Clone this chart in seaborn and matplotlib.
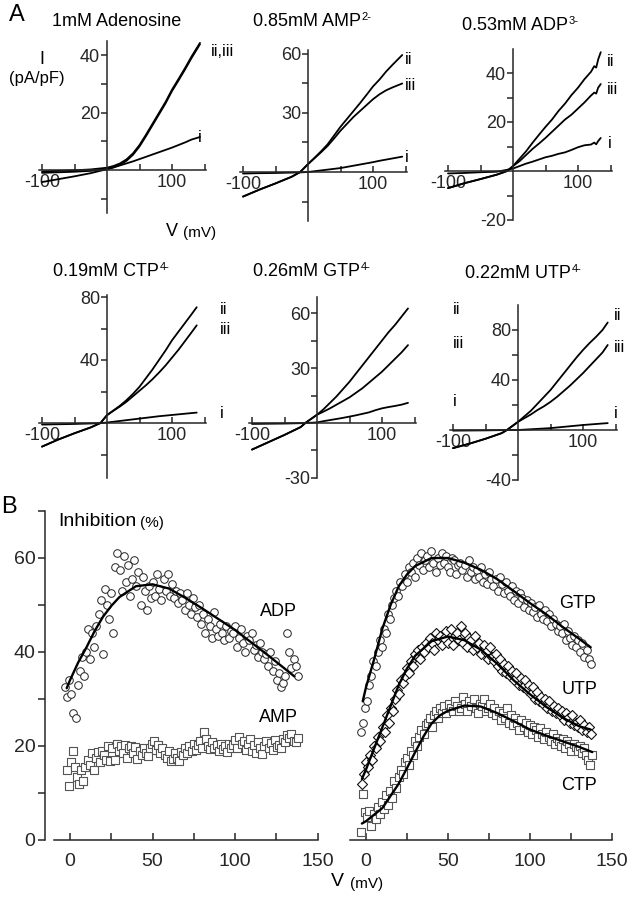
import numpy as np
import matplotlib
matplotlib.use("Agg")
import matplotlib.pyplot as plt
import seaborn as sns

# ---------------------------------------------------------------------------
# Panel A: I-V traces (V in mV, I in pA/pF)
# ---------------------------------------------------------------------------
ADO_V = [-100, -75, -50, -25, 0, 10, 20, 30, 40, 50, 60, 70, 80, 90, 100, 110, 120, 130, 143]
ADO_I = [-4.2, -3.2, -2.2, -1.1, 0.3, 0.9, 1.6, 2.3, 3.0, 3.8, 4.6, 5.4, 6.2, 7.0, 7.8, 8.7, 9.6, 10.6, 11.5]
ADO_II = [-1.0, -0.8, -0.6, -0.3, 0.3, 0.9, 1.8, 3.2, 5.3, 8.2, 11.8, 15.6, 19.4, 23.2, 27.5, 31.2, 35.0, 39.0, 43.8]

AMP_V = [-100, -75, -50, -25, -12, 0, 10, 20, 30, 40, 50, 60, 70, 80, 90, 100, 110, 120, 130, 145]
AMP_I = [-0.8, -0.6, -0.5, -0.3, -0.2, 0, 0.4, 0.8, 1.2, 1.6, 2.0, 2.6, 3.2, 3.8, 4.4, 5.0, 5.7, 6.3, 6.9, 7.8]
AMP_II = [-12.5, -9, -5.8, -2.4, 0, 4, 7.2, 10.5, 14, 18.5, 23, 27, 31, 35, 39.2, 43.5, 47, 51, 54.5, 59.5]
AMP_III = [-12.5, -9, -5.8, -2.4, 0, 4, 7, 10, 13.2, 17, 21, 24.5, 28, 31, 34, 37, 39.5, 41.5, 43, 45]

ADP_V = [-100, -75, -50, -25, -9, 0, 10, 20, 30, 40, 50, 60, 70, 80, 90, 100, 110, 120, 125, 128, 131, 135]
ADP_I = [-1, -0.8, -0.5, -0.3, 0.5, 1, 2, 3, 3.8, 4.7, 5.6, 6.2, 7, 7.6, 8.6, 9.7, 10.5, 10.8, 11.6, 10.9, 12.2, 13.5]
ADP_II = [-7, -5, -3.3, -1.5, 0, 2, 5, 8, 11.5, 14.8, 18, 21, 24.5, 27.5, 31, 34, 37.5, 40.5, 42.8, 42.2, 45.5, 48.5]
ADP_III = [-7, -5, -3.3, -1.5, 0, 2, 4, 6.5, 9, 11.2, 13.5, 16, 18.5, 21, 23, 25.5, 28, 30.8, 32, 31.6, 34, 35.5]

CTP_V = [-100, -75, -50, -25, -10, 0, 10, 20, 30, 40, 50, 60, 70, 80, 90, 100, 110, 120, 130, 138]
CTP_I = [-1, -0.8, -0.6, -0.3, -0.1, 0.3, 0.8, 1.3, 1.8, 2.3, 2.8, 3.3, 3.8, 4.3, 4.7, 5.1, 5.5, 5.9, 6.3, 6.6]
CTP_II = [-15, -10.5, -6.5, -2.8, 0, 5, 8, 11, 14.5, 18.5, 23, 28.5, 34, 40, 46, 52.5, 58, 63.5, 69, 73.5]
CTP_III = [-15, -10.5, -6.5, -2.8, 0, 5, 7.8, 10.5, 13.5, 17, 20.5, 24, 27.8, 32, 36.5, 41.5, 46.5, 52, 57.5, 62]

GTP_V = [-100, -75, -50, -25, -18, 0, 10, 20, 30, 40, 50, 60, 70, 80, 90, 100, 110, 120, 130, 140]
GTP_I = [-0.5, -0.4, -0.3, -0.1, 0, 0.3, 1, 1.6, 2.2, 2.8, 3.5, 4.2, 5, 5.8, 7, 8, 8.7, 9.3, 10, 11]
GTP_II = [-14.5, -10.5, -6.5, -2.2, 0, 4.5, 7.5, 11, 14.5, 18.5, 22.5, 27, 31.5, 36, 40.5, 45, 49.5, 53.5, 58, 62.5]
GTP_III = [-14.5, -10.5, -6.5, -2.2, 0, 4.5, 6.2, 8, 10, 12, 14, 16.5, 19, 22, 25, 28, 31.5, 35, 38.5, 42.5]

UTP_V = [-100, -75, -50, -25, -17, 0, 10, 20, 30, 40, 50, 60, 70, 80, 90, 100, 110, 120, 130, 138]
UTP_I = [-0.5, -0.4, -0.3, -0.1, 0, 0, 0.3, 0.6, 0.9, 1.2, 1.5, 2, 2.5, 3, 3.5, 4, 4.4, 4.8, 5.2, 5.5]
UTP_II = [-14.5, -11, -7, -2.5, 0, 6.5, 11, 15.5, 21, 26.5, 32, 38.5, 45, 51.5, 58, 64, 69.5, 74.5, 80, 86]
UTP_III = [-14.5, -11, -7, -2.5, 0, 6.5, 9.5, 12.5, 16, 19, 22.5, 26.5, 31, 35.5, 40.5, 45.5, 51, 56.5, 62, 68]

# ---------------------------------------------------------------------------
# Panel B: inhibition (%) vs V, scatter points and fitted curves
# ---------------------------------------------------------------------------
ADP_PTS = [32.5, 30.5, 34, 31, 27, 26, 33, 36,
           39, 35, 40, 45, 38.5, 44, 41, 45.5,
           48, 51, 39.5, 53.5, 50, 47, 52.5, 44,
           58, 61, 57.5, 53, 60.5, 55, 58.5, 52,
           55.5, 59.5, 54, 57, 50, 56, 53, 49,
           54, 51.5, 55, 52, 56.5, 53.5, 51, 55.5,
           53, 56.5, 52, 54.5, 51.5, 53, 50.5, 52.5,
           51, 49, 52.5, 50, 48, 51.5, 49.5, 47.5,
           50, 46, 48, 44, 47, 45.5, 43, 48.5,
           45, 43.5, 46, 44, 42.5, 45.5, 43, 44.5,
           44, 45.5, 41, 43, 45, 42, 40, 43.5,
           42.5, 44, 40.5, 41.5, 39, 42, 40, 38.5,
           39.5, 37, 40, 36, 38, 34, 35.5, 32.5,
           33.5, 35, 44, 40, 36.5, 38.5, 37, 35]
ADP_RANGE = (-3, 138)
ADP_FIT_V = [-2, 0, 5, 10, 15, 20, 25, 30, 40, 50, 60, 70, 80, 90, 100, 110, 120, 130, 136]
ADP_FIT = [32.3, 34.0, 37.8, 41.0, 44.5, 47.5, 49.8, 51.7, 54.0, 54.4, 53.5, 51.5, 49.3, 47.0, 44.7, 42.0, 39.3, 36.5, 34.8]

AMP_PTS = [15, 11.5, 16.5, 19, 15.5, 13.5, 12, 14.8,
           12.5, 15.5, 17, 16, 18.5, 15, 17.5, 18.8,
           16.5, 19, 18, 17, 20, 16.8, 19.5, 17,
           20.5, 19, 20, 18.5, 20.3, 17.5, 19.5, 20,
           18.5, 19.8, 17.2, 19, 18, 19.5, 18.5, 17.8,
           19.5, 20.5, 21, 19.2, 20.3, 18.5, 19.5, 18,
           17.5, 19, 16.8, 17.2, 18.5, 17.5, 16.8, 18.8,
           18, 19.5, 18.5, 20, 19, 20.5, 19.2, 20.3,
           21, 19.5, 23, 21.5, 20, 19.3, 20.8, 19.5,
           20.2, 19, 20.5, 19.3, 20, 18.8, 20.5, 19.6,
           20.3, 21.2, 19.5, 22, 20.5, 21, 19.2, 20.5,
           21.5, 19, 20.2, 18.5, 20.8, 19.5, 18.3, 20,
           21, 19.5, 20.6, 19.2, 21.2, 19.8, 20.3, 19.5,
           21.5, 20.8, 22.3, 21.6, 22.5, 21, 20.8, 21.8]
AMP_RANGE = (-2, 138)

GTP_PTS = [23, 25, 28, 29.5, 33, 35, 38, 37,
           40, 42.5, 41, 45, 44, 48, 47, 50,
           51.5, 53, 52, 55, 54, 56.5, 55, 58,
           57, 59, 56, 60, 58.5, 61, 57.5, 59.5,
           60.5, 58, 61.5, 59, 57, 60, 58.5, 61,
           59, 60.5, 58, 57, 60, 59.5, 56.5, 58.5,
           59, 57.5, 58.5, 56, 59.5, 57, 58, 55.5,
           57.5, 56, 58, 55, 56.5, 54.5, 57, 55.5,
           54, 55.5, 53, 56, 54.5, 52.5, 55, 53,
           52, 54, 51, 53, 50.5, 52.5, 51.5, 49.5,
           51, 49, 50.5, 48.5, 49.5, 47.5, 50, 48,
           47, 49, 46.5, 48, 45.5, 47, 46, 44.5,
           45.5, 44, 46, 42.5, 44.5, 43, 41.5, 43.5,
           41, 42.5, 40, 42, 39, 40.5, 38.5, 37.5]
GTP_RANGE = (-3, 137)
GTP_FIT_V = [-2, 0, 5, 10, 15, 20, 25, 30, 40, 50, 60, 70, 80, 90, 100, 110, 120, 130, 137]
GTP_FIT = [29.5, 32.5, 38.5, 45.0, 50.0, 54.0, 56.5, 58.3, 60.0, 60.0, 59.0, 57.5, 55.5, 53.0, 50.4, 48.0, 45.3, 42.8, 41.0]

UTP_PTS = [12, 14, 16.5, 15.5, 18, 17, 20, 19.5,
           22, 21, 24, 23, 26.5, 25, 28, 27.5,
           30, 32, 31, 34, 33.5, 35, 36.5, 35.5,
           38, 37, 39.5, 40.5, 38.5, 41, 40, 42,
           41, 43, 42, 40.5, 44, 42.5, 43.5, 41.5,
           43, 44.5, 42, 45, 41.5, 43.5, 44, 42.5,
           45.5, 42, 44, 41, 43, 42.5, 40.5, 43.5,
           41, 42, 39.5, 41.5, 40, 38.5, 41, 39,
           38, 39.5, 37, 38.5, 36, 37.5, 35.5, 37,
           35, 36, 34, 35.5, 33, 34.5, 32.5, 34,
           32, 33, 31, 32.5, 30, 31.5, 29.5, 30.5,
           29, 30, 28, 29.5, 27.5, 28.5, 27, 28,
           26.5, 27.5, 25.5, 27, 26, 25, 26.5, 24.5,
           25, 24, 25.5, 23.5, 24.5, 23, 24, 22.5]
UTP_RANGE = (-2.5, 137)
UTP_FIT_V = [-2.5, 0, 5, 10, 15, 20, 25, 30, 40, 50, 60, 70, 80, 90, 100, 110, 120, 130, 137]
UTP_FIT = [13.0, 15.0, 19.5, 24.0, 28.5, 33.0, 36.5, 39.2, 42.3, 43.3, 42.5, 40.5, 37.5, 34.0, 31.0, 28.3, 26.0, 24.2, 23.5]

CTP_PTS = [1.8, 9.8, 6, 5, 6.2, 3, 5.5, 4.5,
           7, 5.5, 8, 6.5, 9.5, 7.5, 10.5, 9,
           12.5, 11, 13.5, 15, 14, 16.5, 17.5, 16,
           19, 18, 21, 20, 22, 23.5, 22.5, 24.5,
           25, 26, 24, 26.5, 27.5, 26, 28, 27,
           28.5, 27, 29, 28, 27.5, 29.5, 28.5, 27.5,
           28, 30.5, 29, 27.5, 29.5, 28.5, 30, 28,
           27, 29, 28.5, 30, 27.5, 28, 29, 27,
           28, 26.5, 27.5, 25.5, 27, 26, 28, 25,
           26.5, 24.5, 26, 25, 23.5, 25.5, 24, 24.8,
           23, 24.5, 22.5, 24, 23.5, 22, 23.8, 22.5,
           21.5, 23, 22, 21, 22.5, 20.5, 21.8, 21,
           20, 21.5, 19.5, 21, 20.5, 19, 20.5, 19.8,
           19, 20, 18.5, 19.5, 18, 17, 16, 18]
CTP_RANGE = (-3, 138)
CTP_FIT_V = [-2.5, 0, 10, 20, 25, 30, 35, 40, 45, 50, 60, 70, 80, 90, 100, 110, 120, 130, 138]
CTP_FIT = [3.5, 4.0, 6.8, 12.0, 15.3, 18.7, 22.0, 24.8, 26.5, 27.5, 28.6, 28.4, 27.0, 25.3, 23.5, 22.2, 21.0, 19.8, 18.7]

W, H = 629, 900

sns.set_theme(style="ticks")
plt.rcParams["font.family"] = ["Liberation Sans", "DejaVu Sans"]
plt.rcParams["axes.unicode_minus"] = False
plt.rcParams["axes.linewidth"] = 1.1


def px_axes(fig, x0, y0, sx, sy, xlim, ylim):
    """Place an axes so that data (0, 0) lands on pixel (x0, y0)."""
    left = x0 + xlim[0] * sx
    width = (xlim[1] - xlim[0]) * sx
    top = y0 - ylim[1] * sy
    height = (ylim[1] - ylim[0]) * sy
    ax = fig.add_axes([left / W, 1 - (top + height) / H, width / W, height / H])
    ax.set_xlim(*xlim)
    ax.set_ylim(*ylim)
    ax.patch.set_alpha(0)
    return ax


def ftext(x, y, s, **kw):
    kw.setdefault("color", "black")
    return fig.text(x / W, 1 - y / H, s, **kw)


def style_iv(ax, major, minor):
    for s in ("top", "right"):
        ax.spines[s].set_visible(False)
    ax.spines["left"].set_position(("data", 0))
    ax.spines["bottom"].set_position(("data", 0))
    ax.set_xticks([-100, 100])
    ax.set_xticks([-50, 50, 150], minor=True)
    ax.set_yticks(major)
    ax.set_yticks(minor, minor=True)
    ax.tick_params(axis="x", which="major", direction="in", length=4, width=1.1, labelsize=13, pad=3)
    ax.tick_params(axis="x", which="minor", direction="in", length=4, width=1.1)
    ax.tick_params(axis="y", which="major", direction="out", length=4, width=1.1, labelsize=13, pad=1)
    ax.tick_params(axis="y", which="minor", direction="out", length=4, width=1.1)
    ax.set_xlabel("")
    ax.set_ylabel("")


def traces(ax, v, curves):
    for c in curves:
        sns.lineplot(x=v, y=c, ax=ax, color="black", linewidth=1.3, legend=False)


fig = plt.figure(figsize=(W / 100, H / 100), dpi=100)
renderer = fig.canvas.get_renderer()

# ---- panel A ----
iv_specs = [
    # x0, y0, sx, sy, ylim, major, minor, V, curves
    (107, 170, 0.65, 2.87, (-15, 45), [20, 40], [-10, 10, 30], ADO_V, [ADO_I, ADO_II, [y + 0.5 for y in ADO_II]]),
    (308, 172, 0.65, 1.967, (-25, 62), [30, 60], [-15, 15, 45], AMP_V, [AMP_I, AMP_II, AMP_III]),
    (513, 171, 0.65, 2.45, (-20, 50), [-20, 20, 40], [-10, 10, 30], ADP_V, [ADP_I, ADP_II, ADP_III]),
    (107, 423, 0.65, 1.575, (-35, 81), [40, 80], [-20, 20, 60], CTP_V, [CTP_I, CTP_II, CTP_III]),
    (317, 423, 0.65, 1.833, (-30, 69), [-30, 30, 60], [-15, 15, 45], GTP_V, [GTP_I, GTP_II, GTP_III]),
    (518, 430, 0.65, 1.25, (-40, 100), [-40, 40, 80], [-20, 20, 60], UTP_V, [UTP_I, UTP_II, UTP_III]),
]
for x0, y0, sx, sy, ylim, major, minor, v, curves in iv_specs:
    ax = px_axes(fig, x0, y0, sx, sy, (-105, 152), ylim)
    traces(ax, v, curves)
    style_iv(ax, major, minor)

# titles: left edge x, centre y, text, superscript charge
titles = [
    (52, 22, "1mM Adenosine", ""),
    (253, 22, "0.85mM AMP", "2-"),
    (462, 25, "0.53mM ADP", "3-"),
    (53, 272, "0.19mM CTP", "4-"),
    (253, 272, "0.26mM GTP", "4-"),
    (465, 273, "0.22mM UTP", "4-"),
]
for x, y, s, sup in titles:
    t = ftext(x, y, s, ha="left", va="center", fontsize=13)
    if sup:
        bb = t.get_window_extent(renderer)
        fig.text((bb.x1 + 0.5) / W, (bb.y1 + 1) / H, sup, ha="left", va="top",
                 fontsize=8, color="black")

roman = [
    (211, 52, "ii,iii"), (198, 137, "i"),
    (405, 60, "ii"), (405, 85, "iii"), (405, 157, "i"),
    (607, 62, "ii"), (607, 90, "iii"), (608, 143, "i"),
    (220, 310, "ii"), (220, 330, "iii"), (220, 413, "i"),
    (453, 310, "ii"), (453, 343, "iii"), (453, 402, "i"),
    (614, 315, "ii"), (614, 348, "iii"), (614, 413, "i"),
]
for x, y, s in roman:
    ftext(x, y, s, ha="left", va="center", fontsize=12)

ftext(17, 15, "A", ha="center", va="center", fontsize=17)
ftext(42, 60, "I", ha="center", va="center", fontsize=13)
ftext(37, 79, "(pA/pF)", ha="center", va="center", fontsize=12)
ftext(172, 232, "V", ha="center", va="center", fontsize=13)
ftext(183, 233, "(mV)", ha="left", va="center", fontsize=11)

# ---- panel B ----
axl = px_axes(fig, 70, 840, 1.65, 4.7, (-10, 150), (0, 70))
axr = px_axes(fig, 366, 840, 1.64, 4.7, (-10, 150), (0, 70))

adp_v = np.linspace(*ADP_RANGE, len(ADP_PTS))
amp_v = np.linspace(*AMP_RANGE, len(AMP_PTS))
sns.scatterplot(x=amp_v, y=AMP_PTS, ax=axl, marker="s", s=30, color="white",
                edgecolor="#555555", linewidth=0.8, legend=False, zorder=2)
sns.scatterplot(x=adp_v, y=ADP_PTS, ax=axl, marker="o", s=30, color="white",
                edgecolor="#222222", linewidth=0.7, legend=False, zorder=2)
sns.lineplot(x=ADP_FIT_V, y=ADP_FIT, ax=axl, color="black", linewidth=1.7, legend=False, zorder=3)

gtp_v = np.linspace(*GTP_RANGE, len(GTP_PTS))
utp_v = np.linspace(*UTP_RANGE, len(UTP_PTS))
ctp_v = np.linspace(*CTP_RANGE, len(CTP_PTS))
sns.scatterplot(x=ctp_v, y=CTP_PTS, ax=axr, marker="s", s=30, color="white",
                edgecolor="#555555", linewidth=0.8, legend=False, zorder=2)
sns.scatterplot(x=utp_v, y=UTP_PTS, ax=axr, marker="D", s=26, color="white",
                edgecolor="#111111", linewidth=0.8, legend=False, zorder=2)
sns.scatterplot(x=gtp_v, y=GTP_PTS, ax=axr, marker="o", s=30, color="white",
                edgecolor="#222222", linewidth=0.7, legend=False, zorder=2)
for fv, fy in ((GTP_FIT_V, GTP_FIT), (UTP_FIT_V, UTP_FIT), (CTP_FIT_V, CTP_FIT)):
    sns.lineplot(x=fv, y=fy, ax=axr, color="black", linewidth=1.7, legend=False, zorder=3)

for ax in (axl, axr):
    for s in ("top", "right"):
        ax.spines[s].set_visible(False)
    ax.set_xticks([0, 50, 100, 150])
    ax.set_xticks([25, 75, 125], minor=True)
    ax.tick_params(axis="x", which="both", direction="in", length=5, width=1.1, labelsize=14, pad=9)
    ax.set_xlabel("")
    ax.set_ylabel("")

axl.spines["left"].set_position(("outward", 6))
axl.set_yticks([0, 20, 40, 60])
axl.set_yticks([10, 30, 50, 70], minor=True)
axl.tick_params(axis="y", which="both", direction="out", length=5, width=1.1, labelsize=14, pad=2)
axr.spines["left"].set_visible(False)
axr.set_yticks([])
axr.tick_params(axis="y", which="both", left=False, labelleft=False)

ftext(9, 507, "B", ha="center", va="center", fontsize=17)
ftext(58, 522, "Inhibition", ha="left", va="center", fontsize=14)
ftext(140, 523, "(%)", ha="left", va="center", fontsize=11)
ftext(278, 611, "ADP", ha="center", va="center", fontsize=13)
ftext(278, 717, "AMP", ha="center", va="center", fontsize=13)
ftext(578, 603, "GTP", ha="center", va="center", fontsize=13)
ftext(580, 690, "UTP", ha="center", va="center", fontsize=13)
ftext(579, 785, "CTP", ha="center", va="center", fontsize=13)
ftext(337, 882, "V", ha="center", va="center", fontsize=14)
ftext(350, 884, "(mV)", ha="left", va="center", fontsize=11)

fig.savefig("out.png", dpi=100, facecolor="white")
